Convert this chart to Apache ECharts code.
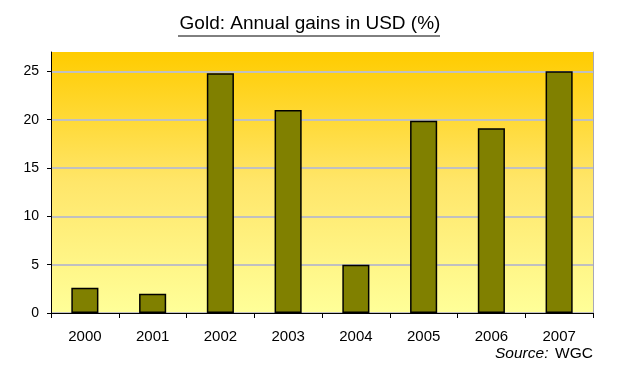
<!DOCTYPE html>
<html><head><meta charset="utf-8">
<script src="https://cdn.jsdelivr.net/npm/echarts@6/dist/echarts.min.js"></script>
<style>html,body{margin:0;padding:0;background:#fff}#c{width:620px;height:377px}</style>
</head><body><div id="c"></div>
<script>
const categories = ['2000','2001','2002','2003','2004','2005','2006','2007'];
const gains = [2.6, 2.0, 24.8, 21.0, 5.0, 19.9, 19.1, 25.0];
const yTicks = [0, 5, 10, 15, 20, 25];

const chart = echarts.init(document.getElementById('c'));
const font = 'Arial, "Liberation Sans", sans-serif';
chart.setOption({
  animation: false,
  title: {
    text: 'Gold: Annual gains in USD (%)',
    left: 'center', top: 9,
    textStyle: {fontFamily: font, fontSize: 19, fontWeight: 'normal', color: '#000'}
  },
  graphic: [
    {type: 'line', shape: {x1: 178, y1: 36, x2: 440, y2: 36}, style: {stroke: '#000', lineWidth: 1}},
    {type: 'text', right: 27, top: 346, style: {
      text: '{i|Source:}  {n|WGC}', fill: '#000',
      rich: {i: {fontFamily: font, fontSize: 15.5, fontStyle: 'italic'}, n: {fontFamily: font, fontSize: 15.5}}
    }}
  ],
  grid: {
    left: 51, right: 27, top: 52, bottom: 64,
    show: true, borderWidth: 0,
    backgroundColor: new echarts.graphic.LinearGradient(0, 0, 0, 1, [
      {offset: 0, color: '#FFCC00'},
      {offset: 0.5, color: '#FFE66A'},
      {offset: 1, color: '#FFFF99'}
    ])
  },
  xAxis: {
    type: 'category', data: categories,
    axisLine: {lineStyle: {color: '#000', width: 1}},
    axisTick: {show: true, length: 5, lineStyle: {color: '#000'}},
    axisLabel: {fontFamily: font, fontSize: 15, color: '#000', margin: 16}
  },
  yAxis: [{
    type: 'value', min: 0, max: 27, interval: 5,
    axisLine: {show: true, lineStyle: {color: '#000', width: 1}},
    axisTick: {show: true, length: 4, lineStyle: {color: '#000'}, customValues: yTicks},
    axisLabel: {fontFamily: font, fontSize: 14, color: '#000', margin: 12, customValues: yTicks},
    splitLine: {lineStyle: {color: '#C0C0C0', width: 2}}
  }, {
    type: 'value', min: 0, max: 27, position: 'right',
    axisLine: {show: true, lineStyle: {color: '#A8A8B8', width: 1}},
    axisTick: {show: false}, axisLabel: {show: false}, splitLine: {show: false}
  }],
  series: [{
    type: 'bar', data: gains, barWidth: '40%',
    itemStyle: {color: '#808000', borderColor: '#000', borderWidth: 1.5}
  }]
});
</script></body></html>
